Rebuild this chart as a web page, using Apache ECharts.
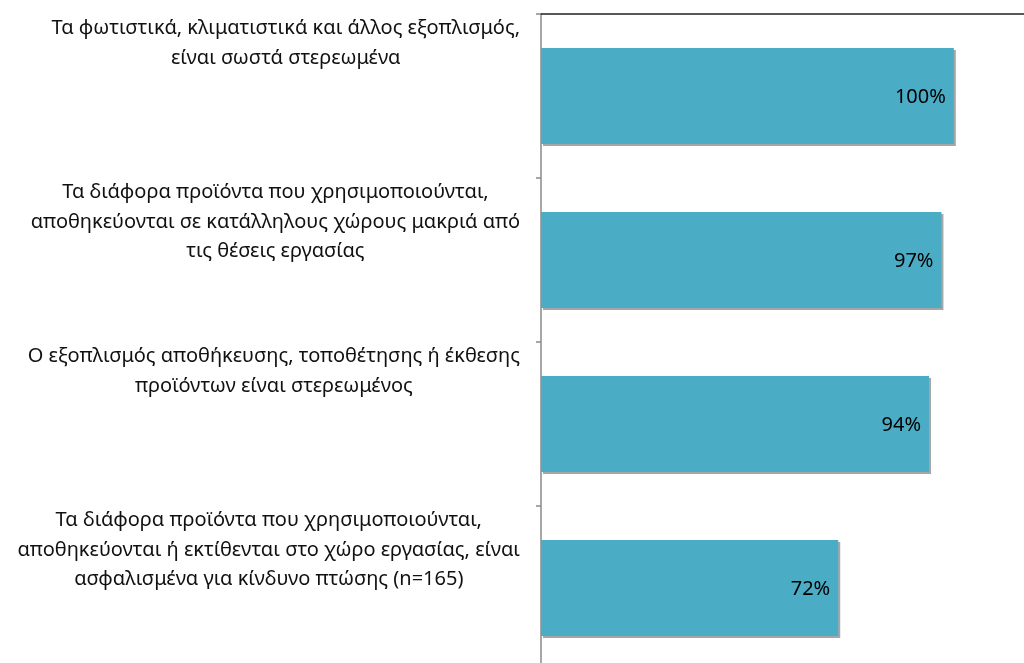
<!DOCTYPE html>
<html>
<head>
<meta charset="utf-8">
<script src="https://cdn.jsdelivr.net/npm/echarts@6/dist/echarts.min.js"></script>
<style>
  html, body { margin: 0; padding: 0; background: #fff; }
  #chart { width: 1024px; height: 663px; }
</style>
</head>
<body>
<div id="chart"></div>
<script>
// κατηγορίες (με τις αλλαγές γραμμής όπως στο πρωτότυπο)
const categories = [
  "Τα φωτιστικά, κλιματιστικά και άλλος εξοπλισμός,\nείναι σωστά στερεωμένα",
  "Τα διάφορα προϊόντα που χρησιμοποιούνται,\nαποθηκεύονται σε κατάλληλους χώρους μακριά από\nτις θέσεις εργασίας",
  "Ο εξοπλισμός αποθήκευσης, τοποθέτησης ή έκθεσης\nπροϊόντων είναι στερεωμένος",
  "Τα διάφορα προϊόντα που χρησιμοποιούνται,\nαποθηκεύονται ή εκτίθενται στο χώρο εργασίας, είναι\nασφαλισμένα για κίνδυνο πτώσης (n=165)"
];
const values = [100, 97, 94, 72];

const FONT = "'Noto Sans', sans-serif";

const chart = echarts.init(document.getElementById("chart"));
chart.setOption({
  animation: false,
  grid: {
    left: 541, right: 0, top: 14, bottom: -7,
    containLabel: false,
    outerBoundsMode: "none"
  },
  xAxis: {
    type: "value",
    position: "top",
    min: 0,
    max: 117,
    axisLine: { show: true, lineStyle: { color: "#222", width: 1.5 } },
    axisTick: { show: false },
    axisLabel: { show: false },
    splitLine: { show: false }
  },
  yAxis: [
    {
      // axis for the bars
      type: "category",
      position: "left",
      inverse: true,
      data: categories,
      axisLine: { show: true, lineStyle: { color: "#8a8a8a", width: 1.5 } },
      axisTick: { show: true, length: 5, lineStyle: { color: "#8a8a8a", width: 1.5 } },
      axisLabel: { show: false }
    },
    {
      // labels sit at the top of each band
      type: "category",
      position: "left",
      offset: 0,
      inverse: true,
      boundaryGap: false,
      data: categories.concat([""]),
      axisLine: { show: false },
      axisTick: { show: false },
      axisLabel: {
        margin: 21,
        verticalAlign: "top",
        color: "#111",
        fontFamily: FONT,
        fontSize: 20,
        lineHeight: 29.5,
        formatter: function (v) {
          return v.split("\n").map(function (s) { return "{c|" + s + "}"; }).join("\n");
        },
        rich: {
          c: { align: "center", fontFamily: FONT, fontSize: 20, lineHeight: 29.5, color: "#111" }
        }
      }
    }
  ],
  series: [
    {
      type: "bar",
      yAxisIndex: 0,
      data: values,
      barWidth: 96,
      itemStyle: {
        color: "#4bacc6",
        shadowColor: "rgba(0,0,0,0.35)",
        shadowOffsetX: 2,
        shadowOffsetY: 2,
        shadowBlur: 0
      },
      label: {
        show: true,
        position: "insideRight",
        distance: 8,
        offset: [0, 1],
        formatter: "{c}%",
        color: "#000",
        fontFamily: FONT,
        fontSize: 20
      }
    }
  ]
});
</script>
</body>
</html>
